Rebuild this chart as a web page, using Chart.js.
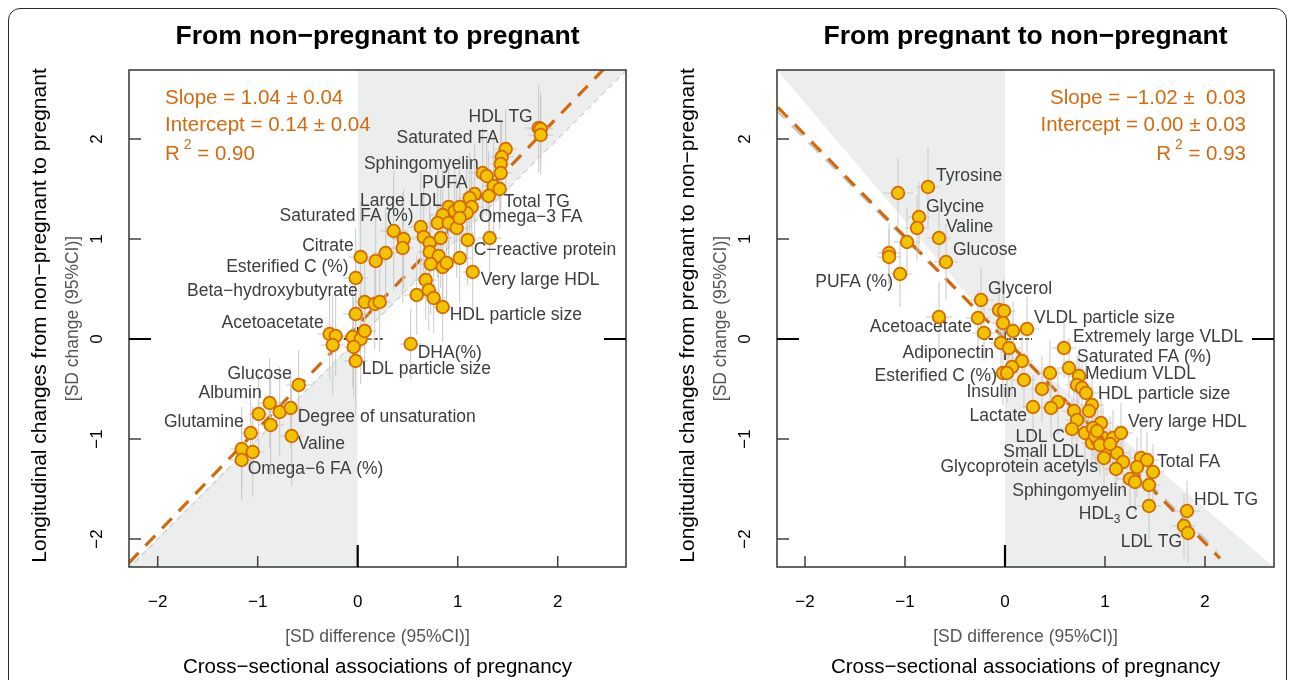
<!DOCTYPE html>
<html>
<head>
<meta charset="utf-8">
<script src="https://cdn.jsdelivr.net/npm/chart.js@4.4.1/dist/chart.umd.min.js"></script>
<style>
  body { margin: 0; background: #fff; }
  #frame { position: absolute; left: 8px; top: 8px; width: 1277px; height: 720px;
           border: 1.5px solid #2a2a2a; border-radius: 12px; }
  canvas { position: absolute; top: 0; }
</style>
</head>
<body>
<div id="frame"></div>
<canvas id="left" width="646" height="680" style="left:0"></canvas>
<canvas id="right" width="646" height="680" style="left:646px"></canvas>
<script>
const FONT = '"Liberation Sans", Arial, Helvetica, sans-serif';
const ORANGE = '#D26A0F';

// shared axes
const axisTicks = [-2, -1, 0, 1, 2];
const yLimits = [-2.28, 2.69];

// ---- From non-pregnant to pregnant (left panel) ----
const leftXLimits = [-2.287, 2.683];
const leftX = [1.81, 1.83, 1.83, 1.48, 1.44, 1.43, 1.43, 1.25, 1.29, 1.36,
  1.42, 1.31, 1.17, 1.12, 1.14, 1.09, 0.91, 0.97, 1.02, 0.85,
  0.80, 0.91, 0.99, 1.02, 0.63, 0.66, 0.72, 0.83, 1.10, 1.32,
  0.36, 0.46, 0.45, 0.72, 0.81, 0.73, 0.85, 0.89, 1.02, 1.15,
  0.68, 0.71, 0.59, 0.76, 0.85, 0.03, 0.28, 0.18, -0.02, 0.07,
  0.17, 0.22, -0.02, -0.28, -0.22, -0.25, -0.05, 0.03, 0.07, -0.04,
  -0.02, 0.53, -0.59, -0.88, -0.99, -0.78, -0.67, -0.87, -0.66, -1.07,
  -1.16, -1.05, -1.16];
const leftY = [2.11, 2.10, 2.04, 1.90, 1.82, 1.75, 1.66, 1.66, 1.63, 1.53,
  1.50, 1.43, 1.45, 1.41, 1.32, 1.26, 1.32, 1.28, 1.32, 1.24,
  1.16, 1.16, 1.11, 1.21, 1.12, 1.02, 0.96, 1.01, 0.99, 1.01,
  1.08, 1.00, 0.91, 0.87, 0.83, 0.75, 0.72, 0.76, 0.81, 0.67,
  0.59, 0.49, 0.44, 0.41, 0.32, 0.82, 0.86, 0.78, 0.61, 0.37,
  0.35, 0.37, 0.25, 0.05, 0.03, -0.06, 0.02, 0.00, 0.08, -0.08,
  -0.22, -0.05, -0.46, -0.64, -0.75, -0.73, -0.69, -0.86, -0.97, -0.94,
  -1.10, -1.13, -1.21];
const leftXErr = [0.14, 0.12, 0.13, 0.11, 0.12, 0.10, 0.12, 0.13, 0.11, 0.12,
  0.10, 0.12, 0.13, 0.11, 0.12, 0.10, 0.13, 0.12, 0.11, 0.12,
  0.13, 0.11, 0.12, 0.10, 0.13, 0.12, 0.11, 0.12, 0.10, 0.12,
  0.14, 0.12, 0.11, 0.12, 0.10, 0.12, 0.11, 0.13, 0.12, 0.10,
  0.12, 0.11, 0.13, 0.12, 0.10, 0.12, 0.13, 0.11, 0.12, 0.10,
  0.12, 0.11, 0.13, 0.12, 0.10, 0.12, 0.11, 0.13, 0.12, 0.10,
  0.12, 0.11, 0.13, 0.12, 0.10, 0.12, 0.11, 0.13, 0.12, 0.10,
  0.12, 0.11, 0.13];
const leftYErr = [0.44, 0.36, 0.40, 0.40, 0.35, 0.45, 0.40, 0.45, 0.40, 0.50,
  0.40, 0.45, 0.50, 0.45, 0.40, 0.45, 0.50, 0.45, 0.50, 0.45,
  0.55, 0.45, 0.50, 0.45, 0.55, 0.50, 0.45, 0.50, 0.45, 0.45,
  0.60, 0.50, 0.55, 0.50, 0.45, 0.50, 0.45, 0.40, 0.45, 0.40,
  0.40, 0.40, 0.40, 0.35, 0.35, 0.55, 0.45, 0.50, 0.50, 0.50,
  0.45, 0.50, 0.55, 0.45, 0.40, 0.50, 0.50, 0.45, 0.40, 0.50,
  0.55, 0.35, 0.35, 0.45, 0.40, 0.45, 0.40, 0.50, 0.50, 0.40,
  0.42, 0.45, 0.40];
// black reference bar around the origin: [xFrom, xTo], [yFrom, yTo]
const leftZeroBarX = [-0.20, 0.25];
const leftZeroBarY = [0.02, 0.12];
const leftNames = ['HDL TG', 'Saturated FA', 'Sphingomyelin', 'PUFA', 'Large LDL',
  'Saturated FA (%)', 'Citrate', 'Esterified C (%)', 'Beta−hydroxybutyrate', 'Acetoacetate',
  'Total TG', 'Omega−3 FA', 'C−reactive protein', 'Very large HDL', 'HDL particle size',
  'DHA(%)', 'LDL particle size', 'Glucose', 'Albumin', 'Glutamine',
  'Degree of unsaturation', 'Valine', 'Omega−6 FA (%)'];
// label anchor in data units [x, y, align]
const leftNamePos = [[1.75, 2.22, 'right'], [1.41, 2.01, 'right'], [1.21, 1.75, 'right'], [1.10, 1.56, 'right'], [0.84, 1.38, 'right'],
  [0.56, 1.23, 'right'], [-0.04, 0.93, 'right'], [-0.09, 0.72, 'right'], [0.00, 0.48, 'right'], [-0.34, 0.16, 'right'],
  [1.46, 1.37, 'left'], [1.21, 1.22, 'left'], [1.16, 0.89, 'left'], [1.23, 0.59, 'left'], [0.92, 0.24, 'left'],
  [0.60, -0.14, 'left'], [0.04, -0.30, 'left'], [-0.66, -0.35, 'right'], [-0.96, -0.54, 'right'], [-1.14, -0.83, 'right'],
  [-0.60, -0.78, 'left'], [-0.60, -1.05, 'left'], [-1.10, -1.30, 'left']];
const leftFit = { slope: 1.04, intercept: 0.14, r2: '0.90' };
const leftStats = ['Slope = 1.04 ± 0.04', 'Intercept = 0.14 ± 0.04'];

// ---- From pregnant to non-pregnant (right panel) ----
const rightXLimits = [-2.28, 2.69];
const rightX = [-1.07, -0.77, -0.86, -0.88, -0.66, -0.98, -0.59, -1.16, -1.16, -1.05,
  -0.24, -0.06, -0.01, -0.66, -0.27, -0.02, -0.21, 0.08, 0.22, -0.04,
  0.04, 0.59, 0.17, 0.07, -0.02, 0.02, 0.19, 0.45, 0.64, 0.74,
  0.37, 0.72, 0.77, 0.81, 0.87, 0.84, 0.53, 0.46, 0.28, 0.69,
  0.72, 0.67, 0.96, 0.80, 0.88, 0.98, 1.08, 1.16, 0.87, 0.93,
  1.02, 0.99, 1.12, 1.18, 1.11, 1.36, 1.42, 1.32, 1.48, 1.25,
  1.30, 1.44, 1.44, 1.82, 1.79, 1.83, 0.90, 0.95, 1.05, 0.92];
const rightY = [1.46, 1.52, 1.22, 1.11, 1.01, 0.97, 0.77, 0.86, 0.82, 0.65,
  0.39, 0.29, 0.28, 0.22, 0.21, 0.16, 0.06, 0.08, 0.10, -0.04,
  -0.09, -0.09, -0.22, -0.28, -0.34, -0.34, -0.41, -0.34, -0.29, -0.37,
  -0.50, -0.46, -0.49, -0.54, -0.66, -0.72, -0.63, -0.69, -0.68, -0.72,
  -0.81, -0.90, -0.84, -0.94, -0.89, -0.99, -0.99, -0.94, -1.04, -1.02,
  -1.09, -1.19, -1.14, -1.23, -1.30, -1.19, -1.21, -1.28, -1.33, -1.40,
  -1.43, -1.46, -1.67, -1.72, -1.87, -1.94, -0.97, -1.06, -1.05, -0.92];
const rightXErr = [0.15, 0.12, 0.11, 0.12, 0.12, 0.13, 0.12, 0.11, 0.12, 0.12,
  0.12, 0.11, 0.12, 0.13, 0.12, 0.11, 0.12, 0.13, 0.12, 0.11,
  0.12, 0.12, 0.11, 0.12, 0.13, 0.12, 0.11, 0.12, 0.12, 0.11,
  0.12, 0.11, 0.12, 0.13, 0.12, 0.11, 0.12, 0.12, 0.11, 0.12,
  0.12, 0.11, 0.12, 0.13, 0.12, 0.11, 0.12, 0.12, 0.11, 0.12,
  0.12, 0.11, 0.12, 0.13, 0.12, 0.11, 0.12, 0.12, 0.11, 0.12,
  0.12, 0.11, 0.12, 0.13, 0.12, 0.11, 0.12, 0.12, 0.11, 0.12];
const rightYErr = [0.35, 0.40, 0.35, 0.33, 0.30, 0.35, 0.38, 0.30, 0.28, 0.33,
  0.33, 0.30, 0.32, 0.35, 0.28, 0.30, 0.28, 0.30, 0.32, 0.30,
  0.28, 0.30, 0.28, 0.30, 0.32, 0.30, 0.28, 0.33, 0.30, 0.28,
  0.33, 0.30, 0.28, 0.30, 0.30, 0.28, 0.33, 0.30, 0.32, 0.28,
  0.28, 0.30, 0.28, 0.30, 0.28, 0.30, 0.28, 0.30, 0.28, 0.30,
  0.28, 0.30, 0.28, 0.30, 0.28, 0.30, 0.28, 0.30, 0.28, 0.30,
  0.30, 0.28, 0.35, 0.30, 0.32, 0.30, 0.28, 0.30, 0.28, 0.30];
const rightZeroBarX = [-0.22, 0.27];
const rightZeroBarY = [0.09, -0.21];
const rightNames = ['Tyrosine', 'Glycine', 'Valine', 'Glucose', 'PUFA (%)',
  'Glycerol', 'VLDL particle size', 'Acetoacetate', 'Extremely large VLDL', 'Adiponectin',
  'Saturated FA (%)', 'Esterified C (%)', 'Medium VLDL', 'Insulin', 'HDL particle size',
  'Lactate', 'Very large HDL', 'LDL C', 'Small LDL', 'Glycoprotein acetyls',
  'Total FA', 'Sphingomyelin', 'HDL_3 C', 'HDL TG', 'LDL TG'];
const rightNamePos = [[-0.69, 1.63, 'left'], [-0.79, 1.32, 'left'], [-0.59, 1.12, 'left'], [-0.52, 0.89, 'left'], [-1.12, 0.57, 'right'],
  [-0.17, 0.50, 'left'], [0.29, 0.21, 'left'], [-0.33, 0.12, 'right'], [0.68, 0.02, 'left'], [-0.11, -0.14, 'right'],
  [0.72, -0.18, 'left'], [-0.08, -0.37, 'right'], [0.80, -0.35, 'left'], [0.12, -0.53, 'right'], [0.93, -0.55, 'left'],
  [0.22, -0.77, 'right'], [1.23, -0.83, 'left'], [0.60, -0.98, 'right'], [0.79, -1.13, 'right'], [0.93, -1.28, 'right'],
  [1.52, -1.23, 'left'], [1.22, -1.52, 'right'], [1.33, -1.75, 'right'], [1.89, -1.61, 'left'], [1.77, -2.03, 'right']];
const rightFit = { slope: -1.02, intercept: 0.00, r2: '0.93', xEnd: 2.15 };
const rightStats = ['Slope = −1.02 ±  0.03', 'Intercept = 0.00 ± 0.03'];

// draw a string with optional _n subscript / ^n superscript pieces
function richText(ctx, str, x, y, size, align) {
  const parts = [];
  str.split(/([_^]\d)/).forEach(s => {
    if (!s) return;
    if (s[0] === '_') parts.push({ t: s[1], dy: size * 0.32, small: true });
    else if (s[0] === '^') parts.push({ t: s[1], dy: -size * 0.42, small: true, pad: 4 });
    else parts.push({ t: s, dy: 0 });
  });
  const big = size + 'px ' + FONT;
  const small = Math.round(size * 0.66) + 'px ' + FONT;
  const widths = parts.map(p => { ctx.font = p.small ? small : big; return ctx.measureText(p.t).width + (p.pad || 0); });
  const total = widths.reduce((a, b) => a + b, 0);
  let cx = align === 'right' ? x - total : (align === 'center' ? x - total / 2 : x);
  ctx.textAlign = 'left';
  ctx.textBaseline = 'middle';
  parts.forEach((p, i) => {
    ctx.font = p.small ? small : big;
    ctx.fillText(p.t, cx + (p.pad || 0), y + p.dy);
    cx += widths[i];
  });
}

function makeDecor(panel) {
  return {
    id: 'decor',
    beforeDatasetDraw(chart, args) {
      if (args.index !== 0) return;
      const ctx = chart.ctx, sx = chart.scales.x, sy = chart.scales.y;
      ctx.save();
      ctx.fillStyle = '#3d3d3d';
      panel.names.forEach((n, i) => {
        const p = panel.namePos[i];
        richText(ctx, n, sx.getPixelForValue(p[0]), sy.getPixelForValue(p[1]), 17.5, p[2]);
      });
      ctx.restore();
    },
    afterDraw(chart) {
      const ctx = chart.ctx, a = chart.chartArea, sx = chart.scales.x, sy = chart.scales.y;
      const cx = (a.left + a.right) / 2, cy = (a.top + a.bottom) / 2;
      ctx.save();
      // box
      ctx.strokeStyle = '#404040';
      ctx.lineWidth = 1.6;
      ctx.strokeRect(a.left, a.top, a.right - a.left, a.bottom - a.top);
      // ticks
      axisTicks.forEach(v => {
        const px = sx.getPixelForValue(v), py = sy.getPixelForValue(v);
        ctx.beginPath();
        if (v === 0) {
          ctx.strokeStyle = '#000'; ctx.lineWidth = 2.2;
          ctx.moveTo(px, a.bottom); ctx.lineTo(px, a.bottom - 22);
          ctx.moveTo(a.left, py); ctx.lineTo(a.left + 22, py);
          ctx.moveTo(a.right, py); ctx.lineTo(a.right - 22, py);
        } else {
          ctx.strokeStyle = '#404040'; ctx.lineWidth = 1.5;
          ctx.moveTo(px, a.bottom); ctx.lineTo(px, a.bottom - 11);
          ctx.moveTo(a.left, py); ctx.lineTo(a.left + 12, py);
        }
        ctx.stroke();
        // tick labels
        ctx.fillStyle = '#000';
        const lab = v < 0 ? '−' + Math.abs(v) : String(v);
        richText(ctx, lab, px, 602, 17, 'center');
        ctx.save();
        ctx.translate(a.left - 32, py);
        ctx.rotate(-Math.PI / 2);
        richText(ctx, lab, 0, 0, 17, 'center');
        ctx.restore();
      });
      // titles
      ctx.fillStyle = '#000';
      ctx.font = 'bold 26.5px ' + FONT;
      ctx.textAlign = 'center';
      ctx.textBaseline = 'middle';
      ctx.fillText(panel.title, cx, 37);
      ctx.fillStyle = '#555';
      richText(ctx, '[SD difference (95%CI)]', cx, 637, 17.5, 'center');
      ctx.fillStyle = '#000';
      richText(ctx, 'Cross−sectional associations of pregnancy', cx, 667, 20.5, 'center');
      ctx.save();
      ctx.translate(a.left - 56, cy);
      ctx.rotate(-Math.PI / 2);
      ctx.fillStyle = '#555';
      richText(ctx, '[SD change (95%CI)]', 0, 0, 17.5, 'center');
      ctx.restore();
      ctx.save();
      ctx.translate(a.left - 89, cy - 3);
      ctx.rotate(-Math.PI / 2);
      ctx.fillStyle = '#000';
      richText(ctx, panel.yTitle, 0, 0, 21, 'center');
      ctx.restore();
      // fit statistics
      ctx.fillStyle = ORANGE;
      const tx = panel.statsAlign === 'left' ? a.left + 36 : a.right - 28;
      richText(ctx, panel.stats[0], tx, a.top + 28, 20.5, panel.statsAlign);
      richText(ctx, panel.stats[1], tx, a.top + 55, 20.5, panel.statsAlign);
      richText(ctx, 'R^2 = ' + panel.fit.r2, tx, a.top + 84, 20.5, panel.statsAlign);
      ctx.restore();
    }
  };
}

function makeChart(id, panel, padLeft, padRight) {
  const [xMin, xMax] = panel.xLimits;
  const [yMin, yMax] = yLimits;
  const points = panel.x.map((v, i) => ({ x: v, y: panel.y[i] }));
  const bars = [];
  panel.x.forEach((v, i) => {
    const w = panel.y[i];
    bars.push({ x: v - panel.xErr[i], y: w }, { x: v + panel.xErr[i], y: w }, { x: null, y: null });
    bars.push({ x: v, y: w - panel.yErr[i] }, { x: v, y: w + panel.yErr[i] }, { x: null, y: null });
  });
  const zeroH = panel.zeroX.map(v => ({ x: v, y: 0 }));
  const zeroV = panel.zeroY.map(v => ({ x: 0, y: v }));
  const fitEnd = panel.fit.xEnd !== undefined ? panel.fit.xEnd : xMax + 1;
  const fitLine = [xMin - 1, fitEnd].map(v => ({ x: v, y: panel.fit.slope * v + panel.fit.intercept }));
  const sign = panel.fit.slope > 0 ? 1 : -1;
  const idLine = [-4, panel.idEnd].map(v => ({ x: v, y: sign * v }));
  // shaded triangles between the y axis and the plot corners
  const shadeUp = sign > 0 ? [{ x: 0, y: 0 }, { x: xMax, y: yMax }] : [{ x: xMin, y: yMax }, { x: 0, y: 0 }];
  const shadeDown = sign > 0 ? [{ x: xMin, y: yMin }, { x: 0, y: 0 }] : [{ x: 0, y: 0 }, { x: xMax, y: yMin }];
  const plain = { type: 'line', pointRadius: 0, tension: 0, spanGaps: false };

  return new Chart(document.getElementById(id), {
    type: 'scatter',
    data: {
      datasets: [
        { data: points, order: 0, pointRadius: 6.3, pointBorderWidth: 1.8,
          backgroundColor: '#F2C400', borderColor: '#D36A06', pointHoverRadius: 6.3 },
        { ...plain, data: bars, order: 1, borderColor: '#c8c8c8', borderWidth: 1 },
        { ...plain, data: zeroH, order: 1, borderColor: '#111', borderWidth: 1.4, borderDash: [4, 2] },
        { ...plain, data: zeroV, order: 1, borderColor: '#111', borderWidth: 1.4 },
        { ...plain, data: fitLine, order: 2, borderColor: '#D2690A', borderWidth: 3.2,
          borderDash: [14, 10] },
        { ...plain, data: idLine, order: 3, borderColor: panel.idColor, borderWidth: panel.idWidth,
          borderDash: panel.idDash },
        { ...plain, data: shadeUp, order: 4, borderWidth: 0, fill: 'end', backgroundColor: '#ECEEED' },
        { ...plain, data: shadeDown, order: 4, borderWidth: 0, fill: 'start', backgroundColor: '#ECEEED' }
      ]
    },
    options: {
      responsive: false,
      animation: false,
      events: [],
      layout: { padding: { left: padLeft, right: padRight, top: 70, bottom: 113 } },
      plugins: { legend: { display: false }, tooltip: { enabled: false } },
      scales: {
        x: { type: 'linear', display: false, min: xMin, max: xMax },
        y: { type: 'linear', display: false, min: yMin, max: yMax }
      }
    },
    plugins: [makeDecor(panel)]
  });
}

makeChart('left', {
  title: 'From non−pregnant to pregnant',
  yTitle: 'Longitudinal changes from non−pregnant to pregnant',
  xLimits: leftXLimits, x: leftX, y: leftY, xErr: leftXErr, yErr: leftYErr,
  zeroX: leftZeroBarX, zeroY: leftZeroBarY,
  names: leftNames, namePos: leftNamePos, fit: leftFit, stats: leftStats, statsAlign: 'left',
  idWidth: 1, idDash: [6, 4], idColor: '#b4b4b4', idEnd: 4
}, 129, 20);

makeChart('right', {
  title: 'From pregnant to non−pregnant',
  yTitle: 'Longitudinal changes from pregnant to non−pregnant',
  xLimits: rightXLimits, x: rightX, y: rightY, xErr: rightXErr, yErr: rightYErr,
  zeroX: rightZeroBarX, zeroY: rightZeroBarY,
  names: rightNames, namePos: rightNamePos, fit: rightFit, stats: rightStats, statsAlign: 'right',
  idWidth: 2, idDash: [14, 10], idColor: '#c6c6c6', idEnd: 2.12
}, 131, 18);
</script>
</body>
</html>
